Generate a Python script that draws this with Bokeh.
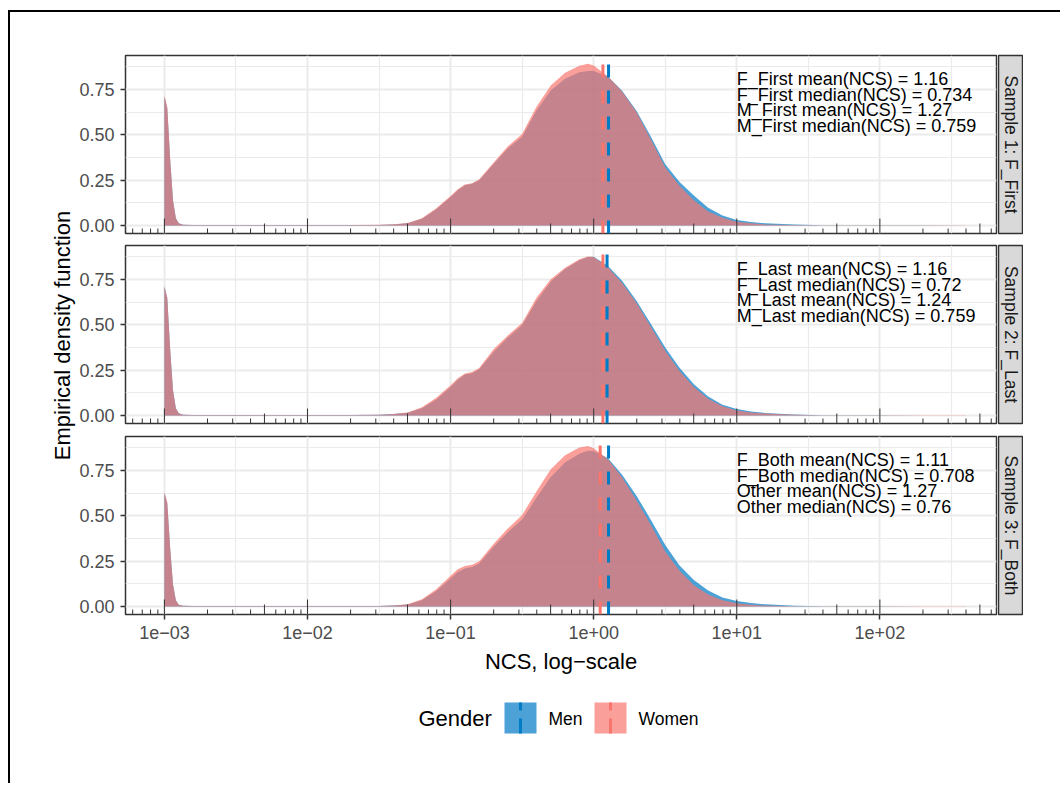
import math
from bokeh.plotting import figure
from bokeh.layouts import column, row
from bokeh.models import Range1d, FixedTicker, Grid
from bokeh.core.properties import value
from bokeh.embed import file_html
from bokeh.resources import INLINE

FONT = "Liberation Sans"

# ---------------- data ----------------
ncs_log10 = [-3.0, -2.98, -2.96, -2.94, -2.92, -2.9, -2.87, -2.8, -2.5, -2.0, -1.7,
             -1.5, -1.4, -1.3, -1.2, -1.1, -1.0, -0.95, -0.9, -0.85, -0.8, -0.7, -0.6,
             -0.5, -0.4, -0.3, -0.2, -0.1, -0.04, 0.0, 0.1, 0.2, 0.3, 0.4, 0.5, 0.6,
             0.7, 0.8, 0.9, 1.0, 1.1, 1.2, 1.4, 1.6, 1.8, 2.0, 2.3, 2.6]

women_p1 = [0.718, 0.654, 0.37, 0.14, 0.04, 0.012, 0.004, 0.003, 0.003, 0.003, 0.003,
            0.004, 0.007, 0.014, 0.04, 0.095, 0.163, 0.2, 0.226, 0.233, 0.255, 0.347, 0.437,
            0.505, 0.655, 0.773, 0.843, 0.882, 0.893, 0.883, 0.822, 0.738, 0.625, 0.475,
            0.32, 0.22, 0.14, 0.077, 0.043, 0.021, 0.012, 0.006, 0.003, 0.002, 0.002, 0.001,
            0.001, 0.001]
men_p1 = [0.71, 0.645, 0.365, 0.138, 0.04, 0.012, 0.004, 0.003, 0.003, 0.003, 0.003,
          0.003, 0.006, 0.012, 0.037, 0.09, 0.158, 0.195, 0.222, 0.23, 0.25, 0.34, 0.425,
          0.49, 0.635, 0.745, 0.81, 0.845, 0.852, 0.853, 0.822, 0.742, 0.632, 0.49, 0.338,
          0.24, 0.165, 0.098, 0.055, 0.031, 0.02, 0.012, 0.005, 0.002, 0.001, 0.001, 0.001,
          0.0005]
women_p2 = [0.715, 0.65, 0.368, 0.14, 0.04, 0.012, 0.004, 0.003, 0.003, 0.003, 0.003,
            0.004, 0.009, 0.017, 0.045, 0.098, 0.167, 0.205, 0.232, 0.24, 0.262, 0.366, 0.442,
            0.51, 0.65, 0.752, 0.815, 0.862, 0.878, 0.874, 0.818, 0.73, 0.62, 0.488, 0.357,
            0.246, 0.158, 0.093, 0.051, 0.028, 0.017, 0.011, 0.004, 0.002, 0.002, 0.002,
            0.001, 0.001]
men_p2 = [0.712, 0.648, 0.366, 0.139, 0.04, 0.012, 0.004, 0.003, 0.003, 0.003, 0.003,
          0.004, 0.008, 0.015, 0.04, 0.088, 0.158, 0.198, 0.226, 0.233, 0.255, 0.35, 0.43,
          0.5, 0.632, 0.74, 0.808, 0.856, 0.874, 0.876, 0.825, 0.742, 0.632, 0.505, 0.375,
          0.264, 0.172, 0.105, 0.06, 0.036, 0.022, 0.014, 0.005, 0.002, 0.001, 0.001,
          0.0005, 0.0003]
women_p3 = [0.632, 0.575, 0.325, 0.123, 0.035, 0.01, 0.004, 0.003, 0.003, 0.003, 0.003,
            0.003, 0.006, 0.013, 0.04, 0.095, 0.17, 0.205, 0.224, 0.23, 0.25, 0.345, 0.43,
            0.505, 0.635, 0.757, 0.835, 0.877, 0.885, 0.873, 0.812, 0.71, 0.585, 0.45, 0.304,
            0.198, 0.118, 0.066, 0.035, 0.018, 0.01, 0.005, 0.002, 0.001, 0.001, 0.001,
            0.001, 0.001]
men_p3 = [0.625, 0.568, 0.322, 0.122, 0.035, 0.01, 0.004, 0.003, 0.003, 0.003, 0.003,
          0.003, 0.005, 0.011, 0.035, 0.085, 0.155, 0.19, 0.21, 0.218, 0.238, 0.33, 0.41,
          0.48, 0.6, 0.715, 0.795, 0.843, 0.86, 0.858, 0.818, 0.725, 0.61, 0.478, 0.34,
          0.226, 0.147, 0.088, 0.05, 0.031, 0.019, 0.012, 0.004, 0.002, 0.001, 0.001,
          0.0005, 0.0003]

panel_labels = ["Sample 1: F_First", "Sample 2: F_Last", "Sample 3: F_Both"]
genders = ["Men", "Women"]
mean_men = [1.27, 1.24, 1.27]
mean_women = [1.16, 1.16, 1.11]
annotations = [
    ["F_First mean(NCS) = 1.16", "F_First median(NCS) = 0.734",
     "M_First mean(NCS) = 1.27", "M_First median(NCS) = 0.759"],
    ["F_Last mean(NCS) = 1.16", "F_Last median(NCS) = 0.72",
     "M_Last mean(NCS) = 1.24", "M_Last median(NCS) = 0.759"],
    ["F_Both mean(NCS) = 1.11", "F_Both median(NCS) = 0.708",
     "Other mean(NCS) = 1.27", "Other median(NCS) = 0.76"],
]
annot_x = 10.0
annot_y = 0.807

x_ticks = [1e-3, 1e-2, 1e-1, 1e0, 1e1, 1e2]
x_tick_labels = ["1e\u221203", "1e\u221202", "1e\u221201", "1e+00", "1e+01", "1e+02"]
y_ticks = [0.0, 0.25, 0.5, 0.75]
y_tick_labels = ["0.00", "0.25", "0.50", "0.75"]
y_minor = [0.125, 0.375, 0.625, 0.875]

men_series = [men_p1, men_p2, men_p3]
women_series = [women_p1, women_p2, women_p3]
for s in men_series + women_series:
    assert len(s) == len(ncs_log10)

ncs = [10 ** e for e in ncs_log10]

# ---------------- style ----------------
MEN_COLOR = "#007BC6"
WOMEN_COLOR = "#F8766D"
FILL_ALPHA = 0.7
XMIN, XMAX = 10 ** -3.272, 10 ** 2.815
Y0, Y1 = -0.044, 0.938
FRAME_W, FRAME_H = 871, 178
YLAB_W = 66
LEFT = 48
PX_PER_UNIT = FRAME_H / (Y1 - Y0)

x_minor = [10 ** (d + 0.5) for d in range(-4, 3)]
logticks = []
for d in range(-4, 3):
    for k in range(1, 10):
        v = k * 10 ** d
        if XMIN <= v <= XMAX:
            L = 15 if k == 1 else (10 if k == 5 else 5)
            logticks.append((v, L))

top_borders = [43, 7, 8]
bottom_borders = [5, 5, 70]


def style_axis(ax):
    ax.axis_line_color = None
    ax.major_tick_line_color = "#333333"
    ax.major_tick_line_width = 1.5
    ax.major_tick_out = 5
    ax.major_tick_in = 0
    ax.minor_tick_line_color = None
    ax.major_label_text_font = FONT
    ax.major_label_text_font_size = "18px"
    ax.major_label_text_color = "#4d4d4d"
    ax.major_label_standoff = 6
    ax.axis_label_text_font = FONT
    ax.axis_label_text_font_size = "22px"
    ax.axis_label_text_font_style = "normal"
    ax.axis_label_text_color = "black"


rows = []
for i in range(3):
    show_x = (i == 2)
    p = figure(x_axis_type="log", x_range=Range1d(XMIN, XMAX), y_range=Range1d(Y0, Y1),
               frame_width=FRAME_W, frame_height=FRAME_H,
               min_border_left=LEFT, min_border_right=1,
               min_border_top=top_borders[i], min_border_bottom=bottom_borders[i],
               output_backend="svg", toolbar_location=None,
               x_axis_location="below" if show_x else None)
    p.background_fill_color = "white"
    p.border_fill_color = "white"
    p.outline_line_color = "#333333"
    p.outline_line_width = 1.5
    for g in p.grid:
        g.visible = False
    p.add_layout(Grid(dimension=0, ticker=FixedTicker(ticks=x_minor),
                      grid_line_color="#ebebeb", grid_line_width=1.2))
    p.add_layout(Grid(dimension=1, ticker=FixedTicker(ticks=y_minor),
                      grid_line_color="#ebebeb", grid_line_width=1.2))
    p.add_layout(Grid(dimension=0, ticker=FixedTicker(ticks=x_ticks),
                      grid_line_color="#ebebeb", grid_line_width=2))
    p.add_layout(Grid(dimension=1, ticker=FixedTicker(ticks=y_ticks),
                      grid_line_color="#ebebeb", grid_line_width=2))

    p.yaxis.ticker = FixedTicker(ticks=y_ticks)
    p.yaxis.major_label_overrides = dict(zip(y_ticks, y_tick_labels))
    style_axis(p.yaxis[0])
    if show_x:
        p.xaxis.ticker = FixedTicker(ticks=x_ticks)
        p.xaxis.major_label_overrides = dict(zip(x_ticks, x_tick_labels))
        style_axis(p.xaxis[0])
        p.xaxis.axis_label = "NCS, log\u2212scale"
        p.xaxis.axis_label_standoff = 7

    # densities: Men first, Women on top
    p.varea(x=ncs, y1=0, y2=men_series[i], fill_color=MEN_COLOR, fill_alpha=FILL_ALPHA)
    p.varea(x=ncs, y1=0, y2=women_series[i], fill_color=WOMEN_COLOR, fill_alpha=FILL_ALPHA)

    # log ticks inside the panel bottom
    p.segment(x0=[v for v, L in logticks], x1=[v for v, L in logticks],
              y0=[Y0] * len(logticks), y1=[Y0 + L / PX_PER_UNIT for v, L in logticks],
              line_color="#333333", line_width=1)

    # mean lines
    p.segment(x0=[mean_men[i]], x1=[mean_men[i]], y0=[Y0], y1=[Y1],
              line_color=MEN_COLOR, line_width=3, line_dash="13 13")
    p.segment(x0=[mean_women[i]], x1=[mean_women[i]], y0=[Y0], y1=[Y1],
              line_color=WOMEN_COLOR, line_width=3, line_dash="13 13")

    lines = annotations[i]
    p.text(x=[annot_x] * len(lines), y=[annot_y] * len(lines),
           y_offset=[15.6 * j for j in range(len(lines))], text=lines,
           text_font=value(FONT), text_font_size="18px", text_color="black",
           text_align="left", text_baseline="alphabetic")

    s = figure(x_range=Range1d(0, 1), y_range=Range1d(0, 1),
               frame_width=24, frame_height=FRAME_H,
               min_border_left=1, min_border_right=1,
               min_border_top=top_borders[i], min_border_bottom=bottom_borders[i],
               output_backend="svg", toolbar_location=None,
               x_axis_location=None, y_axis_location=None)
    s.grid.visible = False
    s.background_fill_color = "#d9d9d9"
    s.border_fill_color = "white"
    s.outline_line_color = "#333333"
    s.outline_line_width = 1.5
    s.text(x=[0.5], y=[0.5], text=[panel_labels[i]], angle=-math.pi / 2,
           text_align="center", text_baseline="middle", text_font=value(FONT),
           text_font_size="17.5px", text_color="#1a1a1a")
    rows.append(row(p, s))

# ---------------- shared y-axis title ----------------
PANELS_H = sum(top_borders) + sum(bottom_borders) + 3 * FRAME_H
ylab = figure(x_range=Range1d(0, YLAB_W), y_range=Range1d(PANELS_H, 0),
              width=YLAB_W, height=PANELS_H, min_border=0,
              output_backend="svg", toolbar_location=None,
              x_axis_location=None, y_axis_location=None)
ylab.grid.visible = False
ylab.outline_line_color = None
ylab.text(x=[52], y=[323], text=["Empirical density function"], angle=math.pi / 2,
          text_align="center", text_baseline="middle", text_font=value(FONT),
          text_font_size="22px", text_color="black")

# ---------------- legend ----------------
LEG_W, LEG_H = 1050, 99
leg = figure(x_range=Range1d(0, LEG_W), y_range=Range1d(LEG_H, 0),
             width=LEG_W, height=LEG_H, min_border=0,
             output_backend="svg", toolbar_location=None,
             x_axis_location=None, y_axis_location=None)
leg.grid.visible = False
leg.outline_line_color = None
leg.background_fill_color = "white"
leg.border_fill_color = "white"

KEY_TOP, KEY_BOT, KEY_W = 18, 49, 32
key_left = [494, 584]
label_x = [538, 628]
key_colors = [MEN_COLOR, WOMEN_COLOR]
leg.text(x=[408], y=[34], text=["Gender"], text_font=value(FONT), text_font_size="22px",
         text_color="black", text_align="left", text_baseline="middle")
leg.quad(left=key_left, right=[k + KEY_W for k in key_left], top=[KEY_TOP] * 2,
         bottom=[KEY_BOT] * 2, fill_color=key_colors, fill_alpha=FILL_ALPHA, line_color=None)
for kl, c in zip(key_left, key_colors):
    leg.segment(x0=[kl + KEY_W / 2], x1=[kl + KEY_W / 2], y0=[KEY_BOT], y1=[KEY_TOP],
                line_color=c, line_width=3, line_dash="15 8")
leg.text(x=label_x, y=[34, 34], text=genders, text_font=value(FONT), text_font_size="17.5px",
         text_color="black", text_align="left", text_baseline="middle")

layout = column(row(ylab, column(*rows)), leg,
                styles={"border-top": "2px solid black", "border-left": "2px solid black"},
                margin=(10, 0, 0, 8))

open("out.html", "w").write(file_html(layout, INLINE))
